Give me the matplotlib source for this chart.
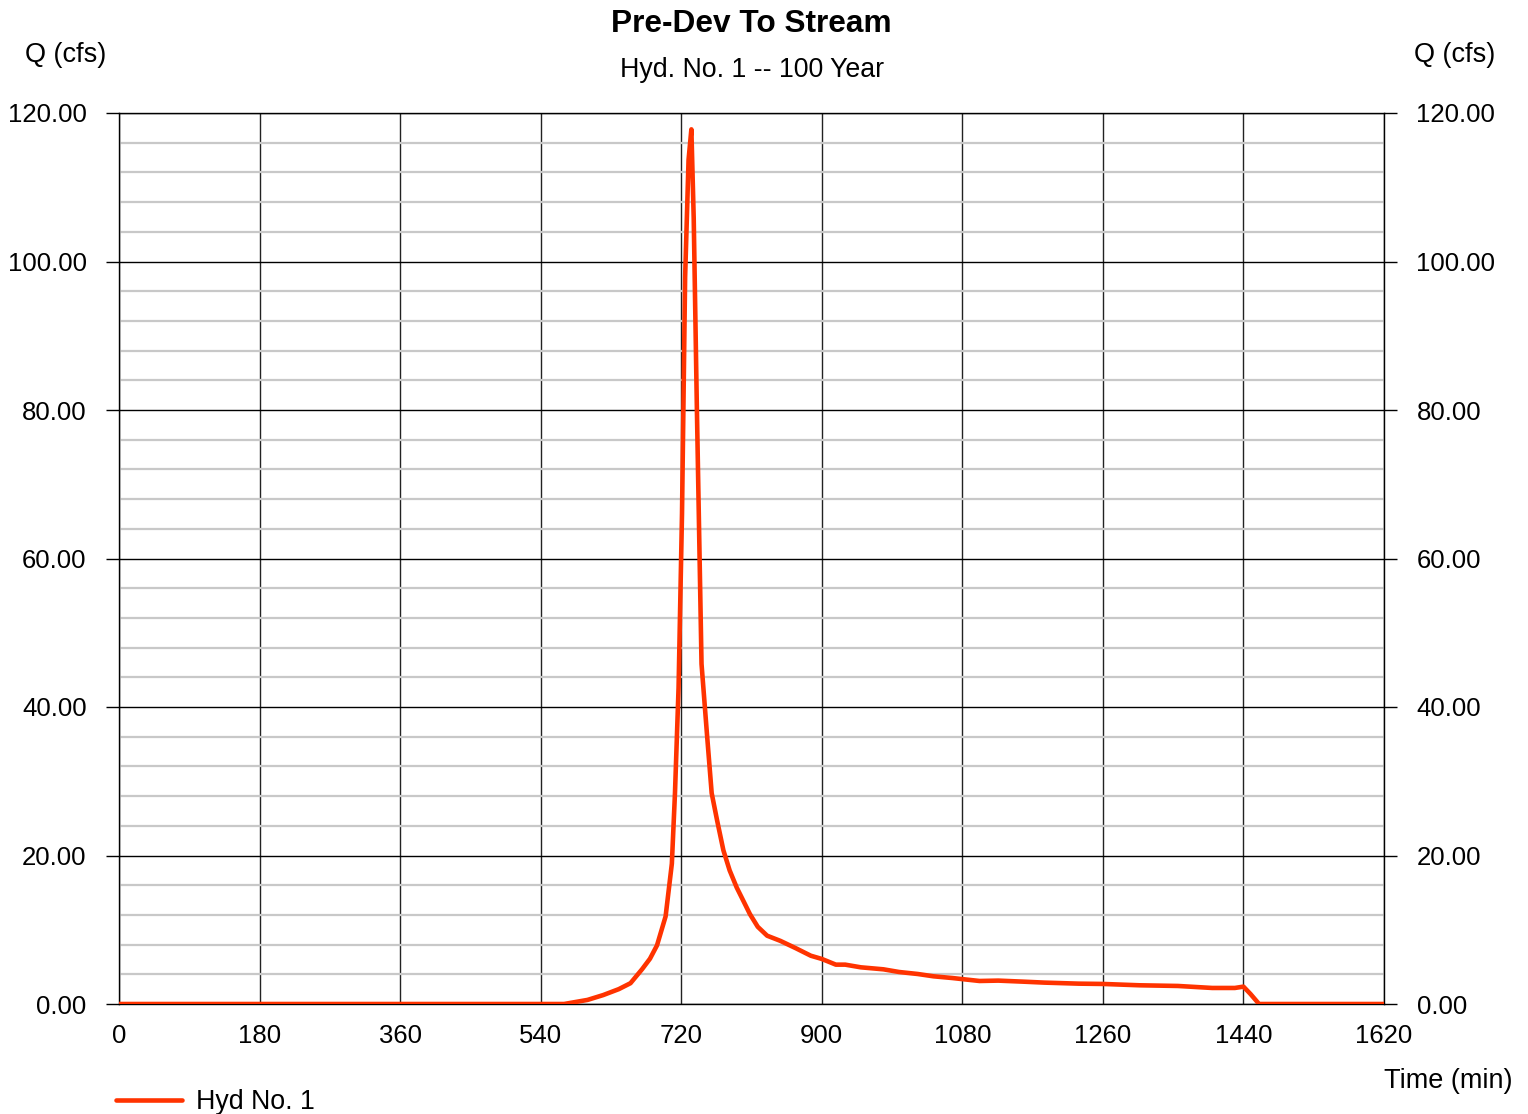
import matplotlib
matplotlib.use("Agg")
import matplotlib.pyplot as plt
from matplotlib.ticker import MultipleLocator, FormatStrFormatter

plt.rcParams['font.family'] = ['Liberation Sans', 'DejaVu Sans']

# hydrograph (time in min, flow in cfs)
time_min = [0, 540, 570, 600, 620, 640, 655, 670, 680, 689, 700, 708, 712, 716.6,
            721, 725, 729.4, 733, 736, 740, 746, 753, 759, 766, 774, 782, 791,
            800, 808, 818, 830, 847, 867, 886, 900, 918, 930, 950, 979, 999,
            1023, 1043, 1067, 1102, 1126, 1160, 1185, 1229, 1260, 1307, 1356,
            1400, 1429, 1440, 1449, 1460, 1620]
flow_cfs = [0, 0, 0, 0.55, 1.2, 2.0, 2.8, 4.7, 6.1, 7.9, 11.8, 18.9, 28.4, 42.6,
            66, 97.9, 113.7, 117.8, 105.8, 80.5, 45.8, 36.3, 28.4, 24.7, 20.7,
            18.0, 15.7, 13.8, 12.1, 10.4, 9.2, 8.5, 7.5, 6.5, 6.07, 5.3, 5.3,
            4.94, 4.67, 4.31, 4.04, 3.73, 3.5, 3.1, 3.15, 3.0, 2.88, 2.74, 2.7,
            2.52, 2.43, 2.16, 2.16, 2.34, 1.35, 0, 0]

x_ticks = [0, 180, 360, 540, 720, 900, 1080, 1260, 1440, 1620]

W, H = 1528, 1114
fig = plt.figure(figsize=(W / 100, H / 100), dpi=100)
ax = fig.add_axes([119 / W, 1 - 1004 / H, (1384 - 119) / W, (1004 - 113) / H])

ax.plot(time_min, flow_cfs, color='#ff3300', lw=3.3, label='Hyd No. 1',
        solid_joinstyle='round', solid_capstyle='round', zorder=3)

ax.set_xlim(0, 1620)
ax.set_ylim(0, 120)
ax.set_xticks(x_ticks)
ax.yaxis.set_major_locator(MultipleLocator(20))
ax.yaxis.set_minor_locator(MultipleLocator(4))
ax.yaxis.set_major_formatter(FormatStrFormatter('%.2f'))

ax.grid(which='minor', axis='y', color='#c8c8c8', lw=1.6, zorder=0)
ax.grid(which='major', axis='y', color='black', lw=1.0, zorder=1)
ax.grid(which='major', axis='x', color='#222222', lw=1.0, zorder=1)

ax.tick_params(axis='y', which='major', left=True, right=True, labelleft=True,
               labelright=True, direction='out', length=9.4, width=1,
               labelsize=18.5, pad=14)
ax.tick_params(axis='y', which='minor', length=0)
ax.tick_params(axis='x', length=0, labelsize=18.5, pad=14.5)
for s in ax.spines.values():
    s.set_linewidth(1.0)

fig.text(751 / W, 1 - 24 / H, 'Pre-Dev To Stream', ha='center', va='center',
         fontsize=22.8, fontweight='bold')
fig.text(752 / W, 1 - 70 / H, 'Hyd. No. 1 -- 100 Year', ha='center',
         va='center', fontsize=19.3)
fig.text(66 / W, 1 - 55 / H, 'Q (cfs)', ha='center', va='center', fontsize=19.5)
fig.text(1455 / W, 1 - 55 / H, 'Q (cfs)', ha='center', va='center', fontsize=19.5)
fig.text(1448 / W, 1 - 1081 / H, 'Time (min)', ha='center', va='center',
         fontsize=19.5)

fig.legend(loc='center left', bbox_to_anchor=(116 / W, 1 - 1102 / H),
           frameon=False, fontsize=19.3, handlelength=2.45, handletextpad=0.55,
           borderpad=0, borderaxespad=0)

fig.savefig('out.png', dpi=100)
